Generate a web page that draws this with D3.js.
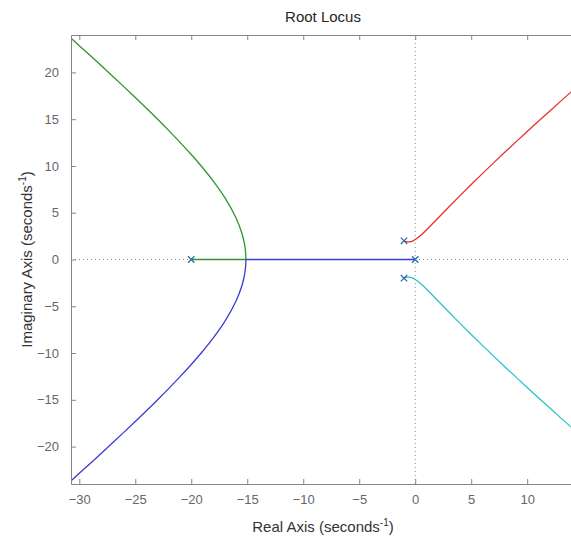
<!DOCTYPE html>
<html><head><meta charset="utf-8">
<script src="https://cdn.jsdelivr.net/npm/d3@7"></script>
<style>
body{margin:0;background:#fff;}
svg{display:block;font-family:"Liberation Sans",Arial,Helvetica,sans-serif;}
</style></head>
<body><svg id="c" width="571" height="542"></svg>
<script>
// ---- data ----
const xTicks = [-30, -25, -20, -15, -10, -5, 0, 5, 10];
const yTicks = [-20, -15, -10, -5, 0, 5, 10, 15, 20];
const poleRe = [0, -1, -1, -20];
const poleIm = [0, 2, -2, 0];
const breakRe = -15.121;
// right-hand complex branches (upper; lower is mirror)
const rightRe = [-1, -0.9, -0.8, -0.7, -0.6, -0.5, -0.4, -0.2, 0, 0.5, 1, 1.5, 2, 3, 4, 5, 6, 7, 8, 9, 10, 11, 12, 13, 14, 15];
const rightIm = [2, 1.944, 1.905, 1.882, 1.875, 1.884, 1.909, 1.998, 2.132, 2.598, 3.162, 3.765, 4.382, 5.615, 6.829, 8.018, 9.184, 10.331, 11.460, 12.575, 13.678, 14.771, 15.855, 16.931, 18.0, 19.063];
// left-hand complex branches after breakaway (upper; lower is mirror)
const leftRe = [-15.121, -15.13, -15.15, -15.2, -15.3, -15.5, -16, -17, -18, -19, -20, -21, -22, -23, -24, -25, -26, -27, -28, -29, -30, -31];
const leftIm = [0, 0.432, 0.788, 1.310, 1.978, 2.890, 4.440, 6.607, 8.323, 9.832, 11.219, 12.526, 13.778, 14.988, 16.166, 17.321, 18.455, 19.573, 20.679, 21.773, 22.857, 23.934];

// ---- layout ----
const L = 71, R = 575, T = 35, B = 484;
const svg = d3.select("#c");
const x = d3.scaleLinear().domain([-30.74, 14.27]).range([L, R]);
const y = d3.scaleLinear().domain([-24, 24]).range([B, T]);

svg.append("defs").append("clipPath").attr("id","clip")
  .append("rect").attr("x",L).attr("y",T).attr("width",R-L).attr("height",B-T);

// zero lines
const g0 = svg.append("g").attr("clip-path","url(#clip)");
g0.append("line").attr("x1",L).attr("x2",R).attr("y1",y(0)).attr("y2",y(0))
  .attr("stroke","#8a8a8a").attr("stroke-width",1).attr("stroke-dasharray","1,3");
g0.append("line").attr("x1",x(0)).attr("x2",x(0)).attr("y1",T).attr("y2",B)
  .attr("stroke","#8a8a8a").attr("stroke-width",1).attr("stroke-dasharray","1,3");

// branches
const curve = d3.line().x(d=>x(d[0])).y(d=>y(d[1])).curve(d3.curveCatmullRom);
const straight = d3.line().x(d=>x(d[0])).y(d=>y(d[1]));
const up = (re, im) => re.map((v,i)=>[v, im[i]]);
const dn = (re, im) => re.map((v,i)=>[v, -im[i]]);
const blue = "#3b3bd6", green = "#2e962e", red = "#e23232", cyan = "#2cc4c4";
const gb = svg.append("g").attr("clip-path","url(#clip)");
const draw = (gen, d, c) => gb.append("path").attr("d",gen(d)).attr("fill","none")
  .attr("stroke",c).attr("stroke-width",1.3);
draw(straight, [[-20,0],[breakRe,0]], green);
draw(straight, [[0,0],[breakRe,0]], blue);
draw(curve, up(leftRe,leftIm), green);
draw(curve, dn(leftRe,leftIm), blue);
draw(curve, up(rightRe,rightIm), red);
draw(curve, dn(rightRe,rightIm), cyan);

// pole markers
const gp = svg.append("g");
poleRe.forEach((re,i)=>{
  const px = x(re), py = y(poleIm[i]), s = 3.2;
  gp.append("path").attr("d",`M${px-s},${py-s}L${px+s},${py+s}M${px-s},${py+s}L${px+s},${py-s}`)
    .attr("stroke","#2a6ea8").attr("stroke-width",1.3).attr("fill","none");
});

// axes
const axCol = "#858585", txtCol = "#666";
const gx = svg.append("g").attr("transform",`translate(0,${B})`)
  .call(d3.axisBottom(x).tickValues(xTicks).tickSize(-5).tickSizeOuter(0).tickPadding(11));
const gt = svg.append("g").attr("transform",`translate(0,${T})`)
  .call(d3.axisTop(x).tickValues(xTicks).tickSize(-5).tickSizeOuter(0).tickFormat(""));
const gy = svg.append("g").attr("transform",`translate(${L},0)`)
  .call(d3.axisLeft(y).tickValues(yTicks).tickSize(-5).tickSizeOuter(0).tickPadding(12));
[gx,gt,gy].forEach(g=>{
  g.selectAll(".domain").attr("stroke",axCol);
  g.selectAll(".tick line").attr("stroke",axCol);
  g.selectAll(".tick text").attr("fill",txtCol).attr("font-size",13)
    .attr("font-family",'"Liberation Sans",Arial,sans-serif');
});

// title & labels
svg.append("text").attr("x",(L+R)/2).attr("y",22).attr("text-anchor","middle")
  .attr("font-size",15).attr("fill","#262626").text("Root Locus");
const xl = svg.append("text").attr("x",(L+R)/2).attr("y",532).attr("text-anchor","middle")
  .attr("font-size",15).attr("fill","#333");
xl.append("tspan").text("Real Axis (seconds");
xl.append("tspan").attr("dy",-6).attr("font-size",10).text("-1");
xl.append("tspan").attr("dy",6).text(")");
const yl = svg.append("text").attr("transform",`translate(32,${(T+B)/2}) rotate(-90)`)
  .attr("text-anchor","middle").attr("font-size",15).attr("fill","#333");
yl.append("tspan").text("Imaginary Axis (seconds");
yl.append("tspan").attr("dy",-6).attr("font-size",10).text("-1");
yl.append("tspan").attr("dy",6).text(")");
</script></body></html>
